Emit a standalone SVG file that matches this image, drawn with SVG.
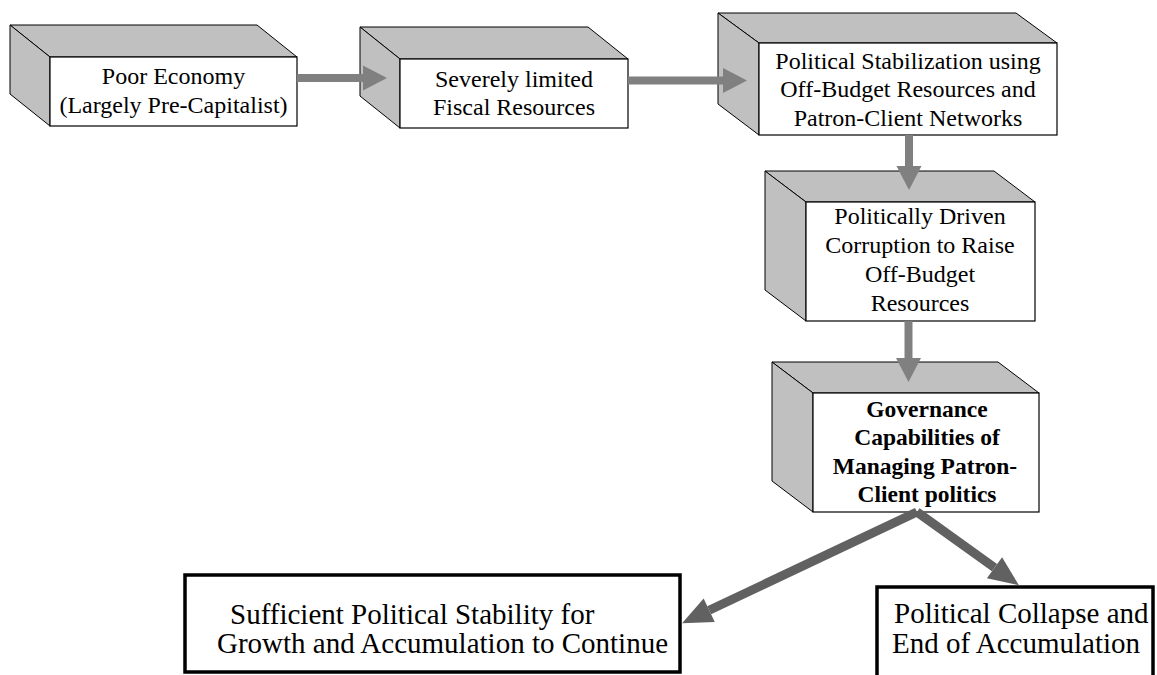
<svg xmlns="http://www.w3.org/2000/svg" width="1157" height="675" viewBox="0 0 1157 675">
<style>
.face{fill:#c0c0c0;stroke:#000;stroke-width:1;stroke-linejoin:miter}
.front{fill:#fff;stroke:#000;stroke-width:1.2}
.t{font-family:"Liberation Serif","Times New Roman",serif;font-size:24px;fill:#000;text-anchor:middle}
.b{font-weight:bold;font-size:23.5px}
.big{font-family:"Liberation Serif","Times New Roman",serif;font-size:29px;fill:#000}
.out{fill:#fff;stroke:#000;stroke-width:3.5}
.a1{stroke:#808080;stroke-width:8;fill:none}
.a2{stroke:#616161;stroke-width:9;fill:none}
</style>
<defs>
<marker id="h1" markerUnits="userSpaceOnUse" markerWidth="24" markerHeight="25" refX="0" refY="12.5" orient="auto" overflow="visible"><path d="M0,0 L24,12.5 L0,25 Z" fill="#808080"/></marker>
<marker id="h2" markerUnits="userSpaceOnUse" markerWidth="30" markerHeight="26" refX="0" refY="13" orient="auto" overflow="visible"><path d="M0,0 L30,13 L0,26 Z" fill="#616161"/></marker>
</defs>
<g id="node-poor-economy">
<polygon class="face" points="50,57 10,25 257,25 297,57"/>
<polygon class="face" points="50,57 10,25 10,94 50,126"/>
<rect class="front" x="50" y="57" width="247" height="69"/>
<text class="t" x="173.5" y="84">Poor Economy</text>
<text class="t" x="173.5" y="113">(Largely Pre-Capitalist)</text>
</g>
<g id="node-fiscal">
<polygon class="face" points="400,59 360,27 588,27 628,59"/>
<polygon class="face" points="400,59 360,27 360,96 400,128"/>
<rect class="front" x="400" y="59" width="228" height="69"/>
<text class="t" x="514" y="87">Severely limited</text>
<text class="t" x="514" y="115">Fiscal Resources</text>
</g>
<g id="node-stabilization">
<polygon class="face" points="759,43 718,13 1016,13 1057,43"/>
<polygon class="face" points="759,43 718,13 718,104 759,135"/>
<rect class="front" x="759" y="43" width="298" height="92"/>
<text class="t" x="908" y="69">Political Stabilization using</text>
<text class="t" x="908" y="97">Off-Budget Resources and</text>
<text class="t" x="908" y="126">Patron-Client Networks</text>
</g>
<g id="node-corruption">
<polygon class="face" points="806,202 765,171 994,171 1035,202"/>
<polygon class="face" points="806,202 765,171 765,290 806,321"/>
<rect class="front" x="806" y="202" width="229" height="119"/>
<text class="t" x="920" y="224">Politically Driven</text>
<text class="t" x="920" y="253">Corruption to Raise</text>
<text class="t" x="920" y="282">Off-Budget</text>
<text class="t" x="920" y="311">Resources</text>
</g>
<g id="node-governance">
<polygon class="face" points="813,393 772,362 998,362 1039,393"/>
<polygon class="face" points="813,393 772,362 772,481 813,512"/>
<rect class="front" x="813" y="393" width="226" height="119"/>
<text class="t b" x="927" y="417">Governance</text>
<text class="t b" x="927" y="445">Capabilities of</text>
<text class="t b" x="925" y="474">Managing Patron-</text>
<text class="t b" x="927" y="502">Client politics</text>
</g>
<g id="node-stability">
<rect class="out" x="185" y="575" width="495" height="97"/>
<text class="big" x="230" y="624">Sufficient Political Stability for</text>
<text class="big" x="217" y="653">Growth and Accumulation to Continue</text>
</g>
<g id="node-collapse">
<rect class="out" x="877" y="587" width="276" height="100"/>
<text class="big" x="894" y="623">Political Collapse and</text>
<text class="big" x="892" y="653">End of Accumulation</text>
</g>
<g id="connectors">
<line class="a1" x1="297" y1="78" x2="363" y2="78" marker-end="url(#h1)"/>
<line class="a1" x1="628" y1="80.5" x2="723" y2="80.5" marker-end="url(#h1)"/>
<line class="a1" x1="909" y1="135" x2="909" y2="166" marker-end="url(#h1)"/>
<line class="a1" x1="908.5" y1="321" x2="908.5" y2="358" marker-end="url(#h1)"/>
<line class="a2" x1="917" y1="512" x2="709.2" y2="610.3" marker-end="url(#h2)"/>
<line class="a2" x1="917" y1="512" x2="994.5" y2="567.7" marker-end="url(#h2)"/>
</g>
</svg>
